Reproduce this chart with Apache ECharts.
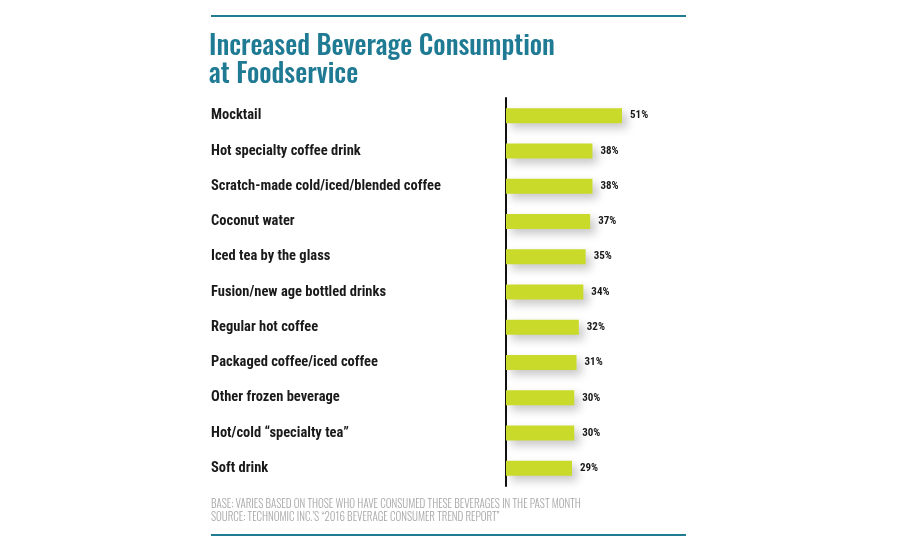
<!DOCTYPE html>
<html><head><meta charset="utf-8">
<script src="https://cdn.jsdelivr.net/npm/echarts@6/dist/echarts.min.js"></script>
<style>html,body{margin:0;padding:0;background:#fff}#c{width:900px;height:550px}</style>
</head><body><div id="c"></div>
<script>
const categories = ["Mocktail","Hot specialty coffee drink","Scratch-made cold/iced/blended coffee","Coconut water","Iced tea by the glass","Fusion/new age bottled drinks","Regular hot coffee","Packaged coffee/iced coffee","Other frozen beverage","Hot/cold \u201cspecialty tea\u201d","Soft drink"];
const values = [51,38,38,37,35,34,32,31,30,30,29];
const titleLines = ["Increased Beverage Consumption","at Foodservice"];
const footnotes = ["BASE: VARIES BASED ON THOSE WHO HAVE CONSUMED THESE BEVERAGES IN THE PAST MONTH","SOURCE: TECHNOMIC INC.\u2019S \u201c2016 BEVERAGE CONSUMER TREND REPORT\u201d"];
const cond = '"Roboto Condensed","DejaVu Sans Condensed",sans-serif';
const chart = echarts.init(document.getElementById('c'));
chart.setOption({
  backgroundColor:'#fff',
  animation:false,
  grid:{left:506,top:98,width:136.5,height:388,containLabel:false},
  xAxis:{type:'value',min:0,max:60,show:false},
  yAxis:{type:'category',data:categories,inverse:true,
    axisLine:{show:true,lineStyle:{color:'#111',width:2}},
    axisTick:{show:false},
    axisLabel:{align:'left',margin:295,fontFamily:cond,fontWeight:'bold',fontSize:14.5,color:'#1a1a1a'}
  },
  series:[{type:'bar',data:values,barWidth:15,
    itemStyle:{color:'#c9da2a',shadowColor:'rgba(0,0,0,0.22)',shadowBlur:10,shadowOffsetX:5,shadowOffsetY:5},
    label:{show:true,position:'right',distance:8,formatter:'{c}%',fontFamily:cond,fontWeight:'bold',fontSize:11,color:'#1a1a1a'}
  }],
  graphic:[
    {type:'rect',shape:{x:211,y:15,width:475,height:2},style:{fill:'#1f7c92'}},
    {type:'rect',shape:{x:211,y:534,width:475,height:2},style:{fill:'#1f7c92'}},
    {type:'text',left:209,top:33,style:{text:titleLines.join('\n'),font:'500 27px Oswald, '+cond,fill:'#1f7a93',lineHeight:28}},
    {type:'text',left:211,top:498,style:{text:footnotes.join('\n'),font:'300 11px Oswald, '+cond,fill:'#a8a8a8',lineHeight:13}}
  ]
});
</script></body></html>
